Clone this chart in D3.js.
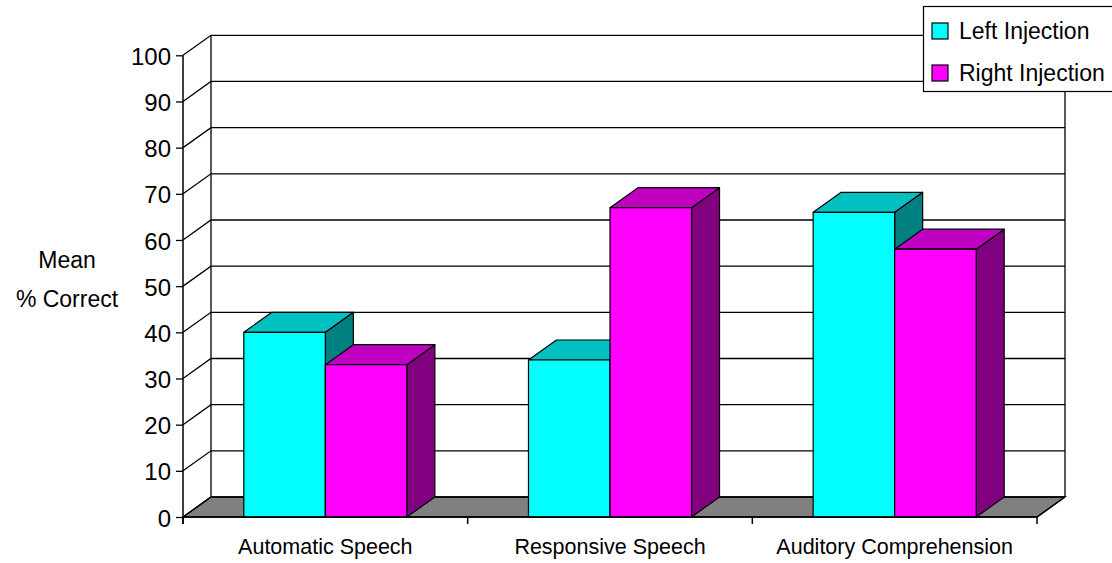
<!DOCTYPE html>
<html>
<head>
<meta charset="utf-8">
<script src="https://cdn.jsdelivr.net/npm/d3@7"></script>
<style>
  html, body { margin: 0; padding: 0; background: #fff; }
  svg { display: block; font-family: "Liberation Sans", Arial, sans-serif; }
</style>
</head>
<body>
<svg id="chart" width="1112" height="563"></svg>
<script>
// Data
const categories = ["Automatic Speech", "Responsive Speech", "Auditory Comprehension"];
const seriesNames = ["Left Injection", "Right Injection"];
const leftInjection = [40, 34, 66];
const rightInjection = [33, 67, 58];
const yTicks = [0, 10, 20, 30, 40, 50, 60, 70, 80, 90, 100];
const yTitle = ["Mean", "% Correct"];

// Colours per series: front, top and side faces
const faceColors = [
  { front: "#00FFFF", top: "#00C0C0", side: "#008080" },
  { front: "#FF00FF", top: "#C000C0", side: "#800080" }
];

const svg = d3.select("#chart");

// Plot frame (front plane) and depth offset of the 3-D box
const plotLeft = 183, plotRight = 1037, plotBottom = 517, plotTop = 55.3;
const dx = 28, dy = -20;

const y = d3.scaleLinear().domain([0, 100]).range([plotBottom, plotTop]);
const x0 = d3.scaleBand().domain(categories).range([plotLeft, plotRight]).padding(0);
const x1 = d3.scaleBand().domain(seriesNames).range([0, x0.bandwidth()])
  .paddingInner(0).paddingOuter(0.746);

const values = categories.map((c, i) => [leftInjection[i], rightInjection[i]]);

// Floor
svg.append("path")
  .attr("d", `M${plotLeft},${plotBottom} L${plotLeft + dx},${plotBottom + dy} L${plotRight + dx},${plotBottom + dy} L${plotRight},${plotBottom} Z`)
  .attr("fill", "#808080").attr("stroke", "#000").attr("stroke-width", 1.3);

// Back wall and side wall gridlines
const grid = svg.append("g").attr("stroke", "#000").attr("stroke-width", 1.3).attr("fill", "none");
yTicks.forEach(t => {
  const yy = y(t);
  grid.append("path")
    .attr("d", `M${plotLeft},${yy} L${plotLeft + dx},${yy + dy} L${plotRight + dx},${yy + dy}`);
});
grid.append("line")
  .attr("x1", plotLeft + dx).attr("x2", plotLeft + dx)
  .attr("y1", y(100) + dy).attr("y2", y(0) + dy);
grid.append("line")
  .attr("x1", plotRight + dx).attr("x2", plotRight + dx)
  .attr("y1", y(100) + dy).attr("y2", y(0) + dy);
grid.append("line")
  .attr("x1", plotRight).attr("x2", plotRight + dx)
  .attr("y1", y(0)).attr("y2", y(0) + dy);

// 3-D bars
const bars = svg.append("g").attr("stroke", "#000").attr("stroke-width", 1.2).attr("stroke-linejoin", "round");
categories.forEach((c, ci) => {
  seriesNames.forEach((s, si) => {
    const v = values[ci][si];
    const xl = x0(c) + x1(s);
    const xr = xl + x1.bandwidth();
    const yt = y(v), yb = y(0);
    const col = faceColors[si];
    const g = bars.append("g");
    // side face
    g.append("path")
      .attr("d", `M${xr},${yb} L${xr},${yt} L${xr + dx},${yt + dy} L${xr + dx},${yb + dy} Z`)
      .attr("fill", col.side);
    // top face
    g.append("path")
      .attr("d", `M${xl},${yt} L${xl + dx},${yt + dy} L${xr + dx},${yt + dy} L${xr},${yt} Z`)
      .attr("fill", col.top);
    // front face
    g.append("rect")
      .attr("x", xl).attr("y", yt)
      .attr("width", xr - xl).attr("height", yb - yt)
      .attr("fill", col.front);
  });
});

// Front x-axis line with category boundary ticks
const xAxis = svg.append("g").attr("stroke", "#000").attr("stroke-width", 1.5);
xAxis.append("line").attr("x1", plotLeft).attr("x2", plotRight).attr("y1", plotBottom).attr("y2", plotBottom);
const bounds = categories.map(c => x0(c)).concat([plotRight]);
bounds.forEach(b => {
  xAxis.append("line").attr("x1", b).attr("x2", b).attr("y1", plotBottom).attr("y2", plotBottom + 7);
});

// Category labels
svg.append("g")
  .attr("transform", `translate(0,${plotBottom})`)
  .call(d3.axisBottom(x0).tickSize(0).tickPadding(21))
  .call(g => g.select(".domain").remove())
  .call(g => g.selectAll("text")
    .attr("font-family", "Liberation Sans, Arial, sans-serif")
    .attr("font-size", 21.5).attr("fill", "#000").attr("dy", 0)
    .attr("y", 37));

// Value axis
svg.append("g")
  .attr("transform", `translate(${plotLeft},0)`)
  .call(d3.axisLeft(y).tickValues(yTicks).tickSize(7).tickSizeOuter(0).tickPadding(5).tickFormat(d3.format("d")))
  .call(g => g.select(".domain").attr("stroke-width", 1.5).attr("d", `M0,${plotTop}V${plotBottom + 7}`))
  .call(g => g.selectAll(".tick line").attr("stroke-width", 1.3))
  .call(g => g.selectAll("text")
    .attr("font-family", "Liberation Sans, Arial, sans-serif")
    .attr("font-size", 24).attr("fill", "#000").attr("dy", "0.38em"));

// Value axis title
svg.append("g").selectAll("text").data(yTitle).join("text")
  .attr("x", 67).attr("y", (d, i) => 268 + i * 39)
  .attr("text-anchor", "middle")
  .attr("font-size", 23).attr("fill", "#000")
  .text(d => d);

// Legend
const legend = svg.append("g");
legend.append("rect")
  .attr("x", 923.5).attr("y", 6.5).attr("width", 200).attr("height", 85)
  .attr("fill", "#fff").attr("stroke", "#000").attr("stroke-width", 1.2);
const items = legend.selectAll("g.item").data(seriesNames).join("g")
  .attr("class", "item")
  .attr("transform", (d, i) => `translate(932,${23 + i * 42})`);
items.append("rect")
  .attr("width", 16).attr("height", 16)
  .attr("fill", (d, i) => faceColors[i].front)
  .attr("stroke", "#000").attr("stroke-width", 1.2);
items.append("text")
  .attr("x", 27).attr("y", 16)
  .attr("font-size", 23).attr("fill", "#000")
  .text(d => d);
</script>
</body>
</html>
